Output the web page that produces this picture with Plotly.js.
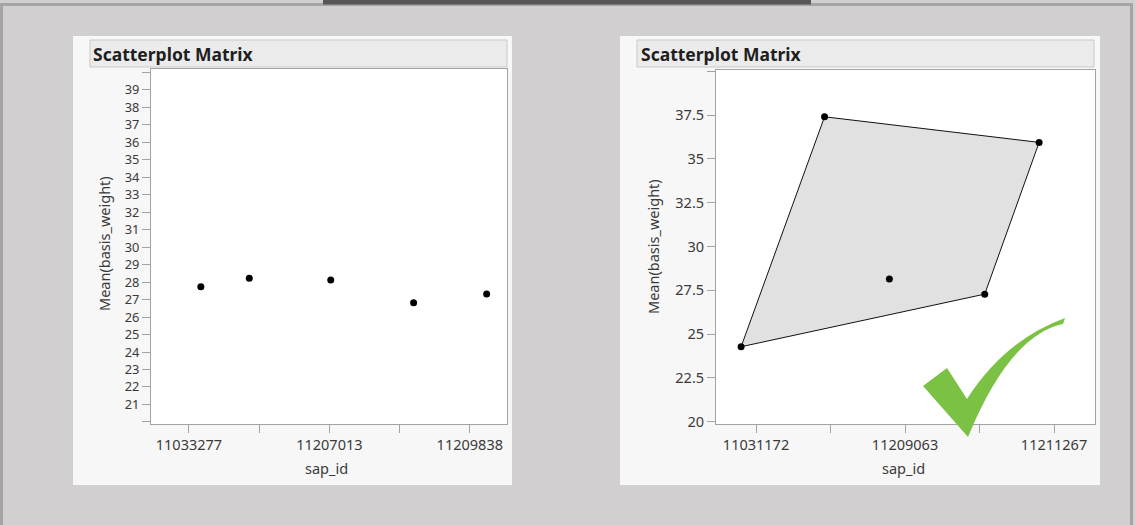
<!DOCTYPE html>
<html>
<head>
<meta charset="utf-8">
<script src="https://cdn.plot.ly/plotly-3.0.1.min.js"></script>
<style>
  html, body { margin: 0; padding: 0; background: #d1cfcf; }
  #chart { width: 1135px; height: 525px; }
</style>
</head>
<body>
<div id="chart"></div>
<script>
// ---------- data ----------
// Left panel: positions on the sap_id axis (category index units, jittered) and Mean(basis_weight)
const leftX = [0.17, 0.86, 2.02, 3.20, 4.24];
const leftY = [27.73, 28.22, 28.12, 26.82, 27.32];
const leftTickLabels = ['11033277', '', '11207013', '', '11209838'];

// Right panel
const rightX = [-0.20, 0.92, 1.79, 3.07, 3.80];
const rightY = [24.28, 37.40, 28.14, 27.28, 35.94];
const rightTickLabels = ['11031172', '', '11209063', '', '11211267'];
// convex hull order of the right panel points (indices)
const hullOrder = [0, 1, 4, 3, 0];

const leftYTicks = [20,21,22,23,24,25,26,27,28,29,30,31,32,33,34,35,36,37,38,39,40];
const leftYTickText = ['','21','22','23','24','25','26','27','28','29','30','31','32','33','34','35','36','37','38','39',''];
const rightYTicks = [20, 22.5, 25, 27.5, 30, 32.5, 35, 37.5, 40];
const rightYTickText = ['20', '22.5', '25', '27.5', '30', '32.5', '35', '37.5', ''];

const panelTitle = 'Scatterplot Matrix';
const xTitle = 'sap_id';
const yTitle = 'Mean(basis_weight)';

// ---------- layout helpers ----------
const W = 1135, H = 525;
const px = v => v / W;
const py = v => 1 - v / H;

const FONT = '"Noto Sans", "Open Sans", sans-serif';
const tickFont = { family: FONT, size: 14.5, color: '#3a3a3a' };
const denseTickFont = { family: FONT, size: 12.8, color: '#3a3a3a' };

function rect(x0, y0, x1, y1, fill, line, lw) {
  return { type: 'rect', xref: 'paper', yref: 'paper', layer: 'below',
    x0: px(x0), x1: px(x1), y0: py(y1), y1: py(y0),
    fillcolor: fill, line: { color: line || 'rgba(0,0,0,0)', width: lw || 0 } };
}

function axisCommon() {
  return {
    showgrid: false, zeroline: false, showline: true, mirror: true,
    linecolor: '#a3a3a3', linewidth: 1, ticks: 'outside', ticklen: 8,
    tickcolor: '#a3a3a3', tickwidth: 1, tickfont: tickFont, fixedrange: true
  };
}

const traces = [
  { x: leftX, y: leftY, xaxis: 'x', yaxis: 'y', type: 'scatter', mode: 'markers',
    marker: { color: '#000', size: 7 }, hoverinfo: 'skip', showlegend: false },
  { x: hullOrder.map(i => rightX[i]), y: hullOrder.map(i => rightY[i]), xaxis: 'x2', yaxis: 'y2',
    type: 'scatter', mode: 'lines', fill: 'toself', fillcolor: '#e1e1e1',
    line: { color: '#111', width: 1 }, hoverinfo: 'skip', showlegend: false },
  { x: rightX, y: rightY, xaxis: 'x2', yaxis: 'y2', type: 'scatter', mode: 'markers',
    marker: { color: '#000', size: 7 }, hoverinfo: 'skip', showlegend: false }
];

// checkmark path in pixel coordinates converted to paper
function pt(x, y) { return px(x).toFixed(5) + ',' + py(y).toFixed(5); }
const checkPath = 'M' + pt(923, 386) + ' L' + pt(947, 368) + ' L' + pt(967, 399) +
  ' Q' + pt(1005, 340) + ' ' + pt(1065, 318) + ' L' + pt(1063, 324) +
  ' Q' + pt(1010, 335) + ' ' + pt(968, 437) + ' Z';

const shapes = [
  // outer frame
  { type: 'rect', xref: 'paper', yref: 'paper', layer: 'below',
    x0: px(1.5), x1: px(1131.5), y0: py(540), y1: py(4.5),
    fillcolor: '#d1cfcf', line: { color: '#a5a5a5', width: 3 } },
  // dark bar top
  rect(323, 0, 811, 4.5, '#575757'),
  // panels
  rect(73, 36, 512, 485, '#f7f7f7'),
  rect(620, 36, 1100, 485, '#f7f7f7'),
  // headers
  rect(90, 40, 507, 67, '#ebebeb', '#c9c9c9', 1),
  rect(637, 40, 1094, 67, '#ebebeb', '#c9c9c9', 1),
  // plot areas
  rect(151, 69, 507, 424, '#ffffff'),
  rect(716, 70, 1095, 424, '#ffffff'),
  // checkmark
  { type: 'path', xref: 'paper', yref: 'paper', layer: 'above', path: checkPath,
    fillcolor: '#7bc143', line: { color: '#7bc143', width: 0 } }
];

const titleFont = { family: FONT, size: 17.5, color: '#1e1e1e' };
const labelFont = { family: FONT, size: 14.5, color: '#3a3a3a' };

const annotations = [
  { text: '<b>' + panelTitle + '</b>', xref: 'paper', yref: 'paper', x: px(91), y: py(54),
    xanchor: 'left', yanchor: 'middle', showarrow: false, font: titleFont },
  { text: '<b>' + panelTitle + '</b>', xref: 'paper', yref: 'paper', x: px(639), y: py(54),
    xanchor: 'left', yanchor: 'middle', showarrow: false, font: titleFont },
  { text: xTitle, xref: 'paper', yref: 'paper', x: px(327), y: py(468),
    xanchor: 'center', yanchor: 'middle', showarrow: false, font: labelFont },
  { text: xTitle, xref: 'paper', yref: 'paper', x: px(903), y: py(468),
    xanchor: 'center', yanchor: 'middle', showarrow: false, font: labelFont },
  { text: yTitle, xref: 'paper', yref: 'paper', x: px(104), y: py(244), textangle: -90,
    xanchor: 'center', yanchor: 'middle', showarrow: false, font: labelFont },
  { text: yTitle, xref: 'paper', yref: 'paper', x: px(653), y: py(247), textangle: -90,
    xanchor: 'center', yanchor: 'middle', showarrow: false, font: labelFont }
];

const layout = {
  width: W, height: H,
  margin: { l: 0, r: 0, t: 0, b: 0, pad: 0 },
  paper_bgcolor: '#d1cfcf',
  plot_bgcolor: 'rgba(0,0,0,0)',
  showlegend: false,
  xaxis: Object.assign(axisCommon(), {
    domain: [px(151), px(507)], range: [-0.54, 4.53], anchor: 'y',
    tickmode: 'array', tickvals: [0, 1, 2, 3, 4], ticktext: leftTickLabels
  }),
  yaxis: Object.assign(axisCommon(), {
    domain: [py(424), py(69)], range: [19.88, 40.2], anchor: 'x',
    tickmode: 'array', tickvals: leftYTicks, ticktext: leftYTickText,
    tickfont: denseTickFont
  }),
  xaxis2: Object.assign(axisCommon(), {
    domain: [px(716), px(1095)], range: [-0.537, 4.55], anchor: 'y2',
    tickmode: 'array', tickvals: [0, 1, 2, 3, 4], ticktext: rightTickLabels
  }),
  yaxis2: Object.assign(axisCommon(), {
    domain: [py(424), py(70)], range: [19.87, 40.07], anchor: 'x2',
    tickmode: 'array', tickvals: rightYTicks, ticktext: rightYTickText
  }),
  shapes: shapes,
  annotations: annotations
};

Plotly.newPlot('chart', traces, layout, { staticPlot: true, displayModeBar: false });
</script>
</body>
</html>
